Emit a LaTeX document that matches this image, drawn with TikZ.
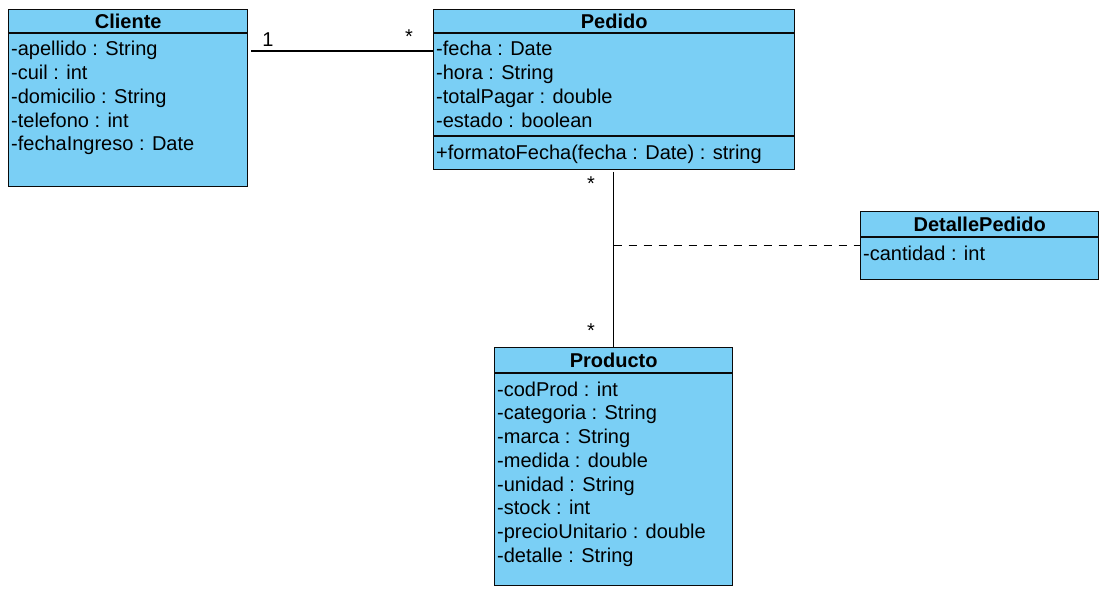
\documentclass[tikz,border=0pt]{standalone}
\usepackage{fontspec}
\setmainfont{Liberation Sans}
\definecolor{classfill}{RGB}{122,207,245}
\definecolor{edge}{RGB}{10,10,10}
\begin{document}
\begin{tikzpicture}[x=1pt,y=-1pt,
  every node/.style={font=\fontsize{20}{22}\selectfont},
  classbox/.style={draw=edge,fill=classfill,line width=1.4pt,inner sep=0pt,anchor=north west},
  sepline/.style={draw=edge,line width=1.4pt},
  attr/.style={anchor=mid west,inner sep=0pt,text=black,yshift=-4.5pt},
  title/.style={anchor=mid,inner sep=0pt,yshift=-4.5pt,font=\fontsize{20}{22}\selectfont\bfseries},
  assoc/.style={draw=black,line width=1.2pt},
  mult/.style={inner sep=0pt,anchor=mid,yshift=-5pt}]
\useasboundingbox (0,0) rectangle (1108,596);

% Cliente
\node[classbox,minimum width=239pt,minimum height=177pt] (cliente) at (8,9) {};
\draw[sepline] ([yshift=-24pt]cliente.north west) -- ([yshift=-24pt]cliente.north east);
\node[title] (clienteT) at ([yshift=-12pt]cliente.north) {Cliente};
\node[attr] (c1) at (11,48) {-apellido : String};
\node[attr] (c2) at (11,72) {-cuil : int};
\node[attr] (c3) at (11,96) {-domicilio : String};
\node[attr] (c4) at (11,120) {-telefono : int};
\node[attr] (c5) at (11,143.5) {-fechaIngreso : Date};

% Pedido
\node[classbox,minimum width=361pt,minimum height=160pt] (pedido) at (433,9) {};
\draw[sepline] ([yshift=-24pt]pedido.north west) -- ([yshift=-24pt]pedido.north east);
\draw[sepline] ([yshift=-127pt]pedido.north west) -- ([yshift=-127pt]pedido.north east);
\node[title] (pedidoT) at ([yshift=-12pt]pedido.north) {Pedido};
\node[attr] (p1) at (436,48) {-fecha : Date};
\node[attr] (p2) at (436,72) {-hora : String};
\node[attr] (p3) at (436,96) {-totalPagar : double};
\node[attr] (p4) at (436,120) {-estado : boolean};
\node[attr] (p5) at (436,152) {+formatoFecha(fecha : Date) : string};

% DetallePedido
\node[classbox,minimum width=238pt,minimum height=68pt] (detalle) at (860,211) {};
\draw[sepline] ([yshift=-26pt]detalle.north west) -- ([yshift=-26pt]detalle.north east);
\node[title] (detalleT) at ([yshift=-13pt]detalle.north) {DetallePedido};
\node[attr] (d1) at (863,253) {-cantidad : int};

% Producto
\node[classbox,minimum width=238pt,minimum height=238pt] (producto) at (494,347) {};
\draw[sepline] ([yshift=-26pt]producto.north west) -- ([yshift=-26pt]producto.north east);
\node[title] (productoT) at ([yshift=-13pt]producto.north) {Producto};
\node[attr] (r1) at (497,389) {-codProd : int};
\node[attr] (r2) at (497,412.5) {-categoria : String};
\node[attr] (r3) at (497,436.5) {-marca : String};
\node[attr] (r4) at (497,460) {-medida : double};
\node[attr] (r5) at (497,484) {-unidad : String};
\node[attr] (r6) at (497,507.5) {-stock : int};
\node[attr] (r7) at (497,531.5) {-precioUnitario : double};
\node[attr] (r8) at (497,555) {-detalle : String};

% Associations
\coordinate (ay) at (0,51);
\draw[assoc] ([xshift=3pt]cliente.east |- ay) -- (pedido.west |- ay);
\coordinate (vtop) at (613.5,172);
\draw[assoc] (vtop) -- (vtop |- producto.north);
\draw[assoc,dash pattern=on 8pt off 7pt] (vtop |- detalle.west) -- (detalle.west);

% Multiplicities
\node[mult] (m1) at (268,39) {1};
\node[mult] (m2) at (409,36) {*};
\node[mult] (m3) at (591,183) {*};
\node[mult] (m4) at (591,330) {*};
\end{tikzpicture}
\end{document}
